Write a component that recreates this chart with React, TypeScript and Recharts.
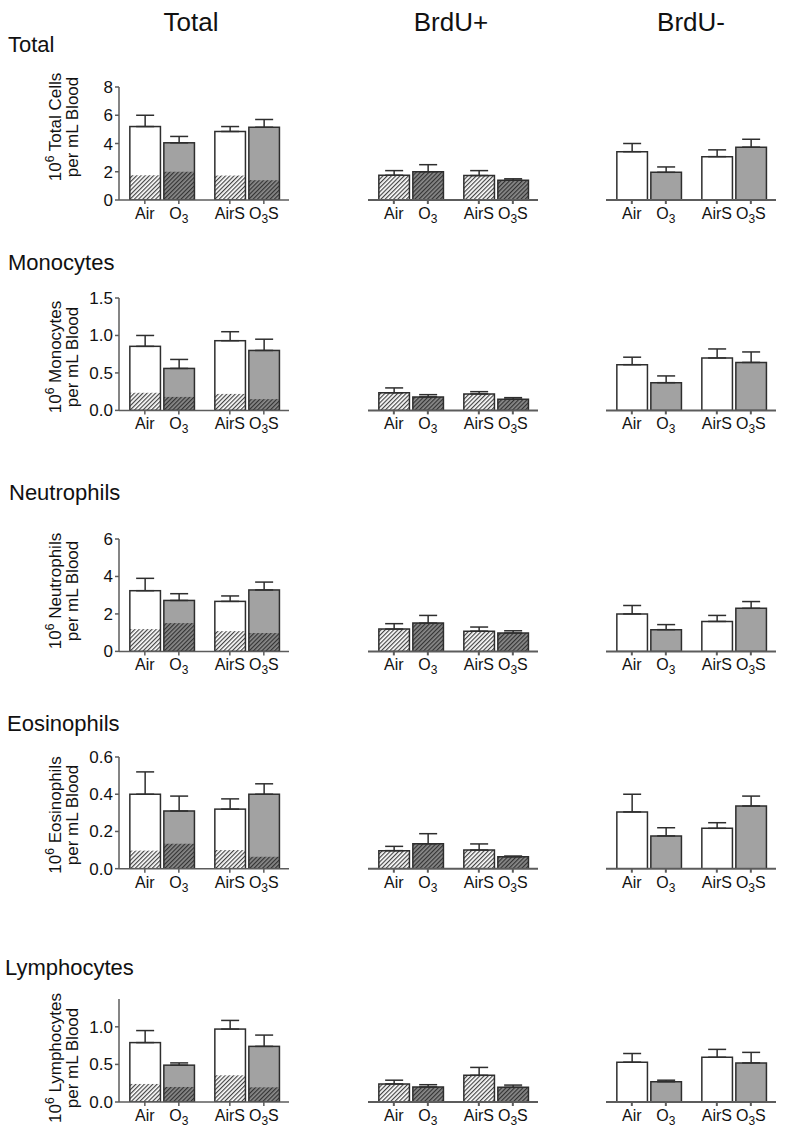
import React from 'react';
import { BarChart, Bar, XAxis, YAxis, ErrorBar, Cell } from 'recharts';

const groups = ['Air', 'O3', 'AirS', 'O3S'];
const groupPos = [0, 1, 2.5, 3.5];
const columnTitles = ['Total', 'BrdU+', 'BrdU-'];
const rowNames = ['Total', 'Monocytes', 'Neutrophils', 'Eosinophils', 'Lymphocytes'];
const yUnits = ['Total Cells', 'Monocytes', 'Neutrophils', 'Eosinophils', 'Lymphocytes'];

// Total cells
const totalAll = [5.2, 4.05, 4.85, 5.15];
const totalAllSem = [0.8, 0.45, 0.35, 0.55];
const totalPos = [1.75, 2.0, 1.73, 1.4];
const totalPosSem = [0.33, 0.5, 0.35, 0.1];
const totalNeg = [3.42, 1.96, 3.07, 3.74];
const totalNegSem = [0.58, 0.38, 0.48, 0.56];
// Monocytes
const monoAll = [0.855, 0.56, 0.93, 0.8];
const monoAllSem = [0.145, 0.12, 0.12, 0.15];
const monoPos = [0.235, 0.18, 0.22, 0.15];
const monoPosSem = [0.065, 0.03, 0.03, 0.02];
const monoNeg = [0.61, 0.37, 0.7, 0.64];
const monoNegSem = [0.1, 0.09, 0.12, 0.14];
// Neutrophils
const neutAll = [3.24, 2.72, 2.67, 3.28];
const neutAllSem = [0.66, 0.36, 0.29, 0.42];
const neutPos = [1.19, 1.51, 1.08, 0.98];
const neutPosSem = [0.29, 0.41, 0.22, 0.12];
const neutNeg = [2.0, 1.16, 1.6, 2.3];
const neutNegSem = [0.45, 0.27, 0.32, 0.36];
// Eosinophils
const eosAll = [0.4, 0.31, 0.32, 0.4];
const eosAllSem = [0.12, 0.08, 0.055, 0.056];
const eosPos = [0.097, 0.134, 0.1, 0.064];
const eosPosSem = [0.023, 0.054, 0.033, 0.004];
const eosNeg = [0.305, 0.176, 0.217, 0.337];
const eosNegSem = [0.095, 0.044, 0.03, 0.053];
// Lymphocytes
const lymphAll = [0.79, 0.49, 0.97, 0.74];
const lymphAllSem = [0.16, 0.03, 0.115, 0.15];
const lymphPos = [0.24, 0.2, 0.355, 0.195];
const lymphPosSem = [0.05, 0.03, 0.105, 0.03];
const lymphNeg = [0.53, 0.27, 0.595, 0.52];
const lymphNegSem = [0.115, 0.02, 0.105, 0.14];

const rowMax = [8, 1.5, 6, 0.6, 1.37];
const rowTicks = [
  [0, 2, 4, 6, 8],
  [0, 0.5, 1, 1.5],
  [0, 2, 4, 6],
  [0, 0.2, 0.4, 0.6],
  [0, 0.5, 1],
];

// layout (px)
const rowTop = [87, 298.3, 539.3, 757.3, 999];
const rowZero = [200, 410.7, 651.7, 869, 1102];
const rowTitleY = [52, 270, 500, 731, 975];
const rowTitleX = [8, 8, 9, 7, 5];
const yLabelY = [127, 357, 591, 815, 1058];
const colPlotLeft = [119, 368, 606];
const colTitleX = [191, 451, 691];
const PLOT_W = 170;
const X_DOMAIN: [number, number] = [-0.76, 4.24];

const EDGE = '#2e2e2e';
const AXIS = '#5c5c5c';
const GRAY = '#a2a2a2';
const FONT = '"Liberation Sans", Arial, Helvetica, sans-serif';

type Datum = { x: number; v: number; e: [number, number]; h: number; gray: boolean };

function makeData(means: number[], sems: number[], hatch?: number[]): Datum[] {
  return groups.map((g, i) => ({
    x: groupPos[i],
    v: means[i],
    e: [0, sems[i]],
    h: hatch ? hatch[i] : means[i],
    gray: i % 2 === 1,
  }));
}

const panels: Datum[][][] = [
  [makeData(totalAll, totalAllSem, totalPos), makeData(totalPos, totalPosSem), makeData(totalNeg, totalNegSem)],
  [makeData(monoAll, monoAllSem, monoPos), makeData(monoPos, monoPosSem), makeData(monoNeg, monoNegSem)],
  [makeData(neutAll, neutAllSem, neutPos), makeData(neutPos, neutPosSem), makeData(neutNeg, neutNegSem)],
  [makeData(eosAll, eosAllSem, eosPos), makeData(eosPos, eosPosSem), makeData(eosNeg, eosNegSem)],
  [makeData(lymphAll, lymphAllSem, lymphPos), makeData(lymphPos, lymphPosSem), makeData(lymphNeg, lymphNegSem)],
];

// bar of the Total column: plain fill with the BrdU+ share hatched at the bottom
const StackShape = (props: any) => {
  const { x, y, width, height, payload } = props;
  const hh = height * (payload.h / payload.v);
  return (
    <g>
      <rect x={x} y={y} width={width} height={height} fill={payload.gray ? GRAY : '#fff'} />
      <rect
        x={x}
        y={y + height - hh}
        width={width}
        height={hh}
        fill={payload.gray ? 'url(#hatchDark)' : 'url(#hatchLight)'}
      />
      <rect x={x} y={y} width={width} height={height} fill="none" stroke={EDGE} strokeWidth={1.5} />
    </g>
  );
};

const XTick = (props: any) => {
  const { x, y, payload } = props;
  const label = groups[groupPos.indexOf(payload.value)] ?? '';
  const parts = label.split('3');
  return (
    <text x={x} y={y + 13} textAnchor="middle" fontSize={16} fontFamily={FONT} fill="#111">
      {parts.length === 1 ? (
        label
      ) : (
        <>
          <tspan>{parts[0]}</tspan>
          <tspan dy={4} fontSize={12}>
            3
          </tspan>
          {parts[1] ? <tspan dy={-4}>{parts[1]}</tspan> : null}
        </>
      )}
    </text>
  );
};

function Panel({ row, col }: { row: number; col: number }) {
  const data = panels[row][col];
  const plotH = rowZero[row] - rowTop[row];
  const yW = col === 0 ? 40 : 0;
  const margin = { top: 10, right: 10, bottom: 4, left: 10 };
  const width = PLOT_W + margin.left + margin.right + yW;
  const height = plotH + margin.top + margin.bottom + 30;
  const fmt = (v: number) => (rowMax[row] >= 2 ? String(v) : v.toFixed(1));
  return (
    <div
      style={{
        position: 'absolute',
        left: colPlotLeft[col] - margin.left - yW,
        top: rowTop[row] - margin.top,
        width,
        height,
      }}
    >
      <BarChart width={width} height={height} data={data} margin={margin}>
        <XAxis
          dataKey="x"
          type="number"
          domain={X_DOMAIN}
          ticks={groupPos}
          allowDataOverflow
          height={30}
          tickSize={4}
          stroke={AXIS}
          strokeWidth={col === 0 ? 1.5 : 2}
          tick={<XTick />}
          interval={0}
        />
        <YAxis
          hide={col !== 0}
          width={yW}
          domain={[0, rowMax[row]]}
          ticks={rowTicks[row]}
          allowDataOverflow
          tickSize={4}
          stroke={AXIS}
          strokeWidth={1.5}
          tickFormatter={fmt}
          tick={{ fontSize: 17, fill: '#111', fontFamily: FONT }}
          interval={0}
        />
        <Bar
          dataKey="v"
          barSize={34}
          isAnimationActive={false}
          stroke={col === 0 ? undefined : EDGE}
          strokeWidth={1.5}
          shape={col === 0 ? StackShape : undefined}
        >
          {col !== 0 &&
            data.map((d, i) => (
              <Cell
                key={i}
                fill={col === 1 ? (d.gray ? 'url(#hatchDark)' : 'url(#hatchLight)') : d.gray ? GRAY : '#fff'}
              />
            ))}
          <ErrorBar dataKey="e" width={9} stroke={EDGE} strokeWidth={1.5} direction="y" />
        </Bar>
      </BarChart>
    </div>
  );
}

export default function App() {
  return (
    <div
      style={{
        position: 'absolute',
        left: 0,
        top: 0,
        width: 789,
        height: 1133,
        background: '#fff',
        fontFamily: FONT,
      }}
    >
      <svg width={0} height={0} style={{ position: 'absolute' }}>
        <defs>
          <pattern id="hatchLight" patternUnits="userSpaceOnUse" width={3} height={3} patternTransform="rotate(45)">
            <rect width={3} height={3} fill="#fff" />
            <line x1={0.6} y1={0} x2={0.6} y2={3} stroke="#444" strokeWidth={1.2} />
          </pattern>
          <pattern id="hatchDark" patternUnits="userSpaceOnUse" width={3} height={3} patternTransform="rotate(45)">
            <rect width={3} height={3} fill="#8a8a8a" />
            <line x1={0.6} y1={0} x2={0.6} y2={3} stroke="#333" strokeWidth={1.2} />
          </pattern>
        </defs>
      </svg>
      {rowNames.map((r, row) => [0, 1, 2].map((col) => <Panel key={`${row}-${col}`} row={row} col={col} />))}
      <svg
        width={789}
        height={1133}
        style={{ position: 'absolute', left: 0, top: 0, pointerEvents: 'none' }}
        fontFamily={FONT}
      >
        {columnTitles.map((t, i) => (
          <text key={t} x={colTitleX[i]} y={31} textAnchor="middle" fontSize={26} fill="#111">
            {t}
          </text>
        ))}
        {rowNames.map((r, i) => (
          <text key={r} x={rowTitleX[i]} y={rowTitleY[i]} fontSize={22} fill="#111">
            {r}
          </text>
        ))}
        {yUnits.map((u, i) => (
          <g key={u} transform={`rotate(-90, 0, ${yLabelY[i]})`}>
            <text x={0} y={yLabelY[i] + 61} textAnchor="middle" fontSize={17} fill="#111">
              10
              <tspan dy={-7} fontSize={12}>
                6
              </tspan>
              <tspan dy={7}> {u}</tspan>
            </text>
            <text x={0} y={yLabelY[i] + 78} textAnchor="middle" fontSize={17} fill="#111">
              per mL Blood
            </text>
          </g>
        ))}
      </svg>
    </div>
  );
}
